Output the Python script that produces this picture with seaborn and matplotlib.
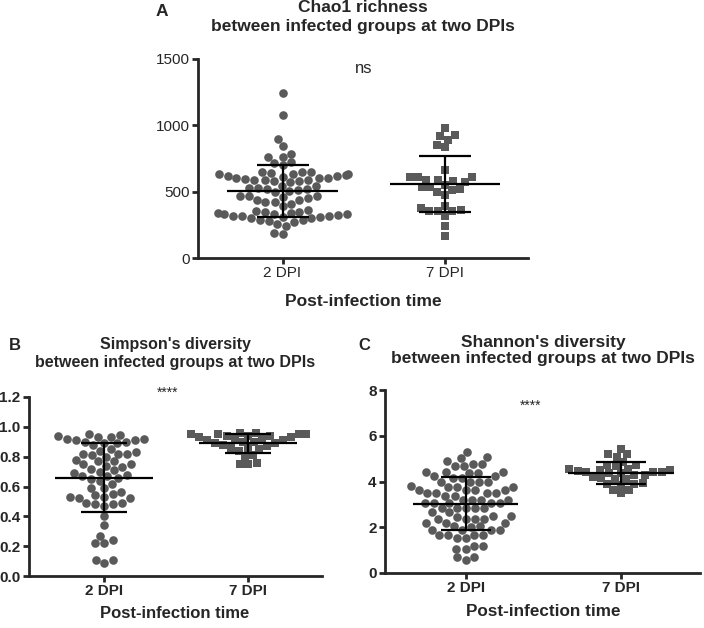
import seaborn as sns
import matplotlib.pyplot as plt
import numpy as np
import pandas as pd

sns.set_style("ticks")
plt.rcParams["font.family"] = ["Liberation Sans", "DejaVu Sans"]

groups = ["2 DPI", "7 DPI"]

# Chao1 richness
chao1_2dpi = [1240, 1075, 900, 845, 785, 765, 765, 720, 700, 715, 650, 645, 650,
              640, 630, 625, 615, 605, 600, 595, 590, 585, 580, 575, 580, 590, 600, 610, 620, 630, 635,
              545, 530, 520, 505, 500, 510, 520, 530, 540,
              435, 420, 470, 465, 460, 410, 420, 470, 450, 440,
              355, 350, 345, 340, 335, 330, 325, 320, 315, 310, 300, 290, 280, 275, 285, 300,
              310, 320, 330, 340,
              365, 390, 240, 255, 180, 190]
chao1_7dpi = [980, 930, 917, 892, 849, 834, 666,
              608, 590, 578, 570, 590, 608, 612,
              553, 535, 515, 477, 495, 520, 535,
              394, 364, 352, 352, 319, 357, 377, 239, 163]

# Simpson's diversity
simpson_2dpi = [0.95, 0.944,
                0.93, 0.92, 0.91, 0.90, 0.89, 0.88, 0.89, 0.90, 0.91, 0.92, 0.93, 0.94,
                0.84, 0.82, 0.82, 0.80, 0.78, 0.81, 0.82, 0.83, 0.85,
                0.77, 0.75, 0.74, 0.72, 0.70, 0.69, 0.71, 0.73, 0.75, 0.77,
                0.68, 0.67, 0.66, 0.65, 0.64, 0.67,
                0.62, 0.59, 0.59, 0.56, 0.55,
                0.54, 0.53, 0.52, 0.52, 0.53,
                0.49, 0.48, 0.48, 0.49, 0.47,
                0.40, 0.34, 0.27, 0.24, 0.22, 0.22, 0.11, 0.11, 0.09]
simpson_7dpi = [0.96, 0.95, 0.95, 0.94, 0.94, 0.95, 0.96, 0.95, 0.94,
                0.93, 0.93, 0.92, 0.92, 0.91, 0.91, 0.90, 0.90, 0.89, 0.89,
                0.88, 0.87, 0.86, 0.86, 0.85, 0.84,
                0.81, 0.80, 0.76, 0.75, 0.75]

# Shannon's diversity
shannon_2dpi = [5.27, 5.06, 5.03, 4.90, 4.77, 4.77, 4.68, 4.68,
                4.40, 4.40, 4.39, 4.38, 4.40, 4.22, 4.22, 4.15, 4.15,
                3.97, 3.97, 3.96, 3.98, 3.78, 3.78, 3.77, 3.79,
                3.64, 3.64, 3.63, 3.65, 3.49, 3.49, 3.48, 3.50, 3.37, 3.37,
                3.20, 3.20, 3.19, 3.21, 3.05, 3.05, 3.04, 3.06, 3.05,
                2.84, 2.84, 2.83, 2.85, 2.84, 2.65, 2.65,
                2.47, 2.47, 2.46, 2.36, 2.36, 2.35, 2.37, 2.18, 2.18, 2.17,
                2.04, 2.04, 2.03, 1.89, 1.89, 1.88, 1.90,
                1.67, 1.67, 1.66, 1.68, 1.53, 1.53, 1.19, 1.19, 1.05, 1.05,
                0.68, 0.68, 0.55]
shannon_7dpi = [5.41, 5.19, 5.19, 5.09, 4.87, 4.72, 4.70, 4.68, 4.56, 4.54, 4.52, 4.50,
                4.45, 4.42, 4.40, 4.40, 4.38, 4.35, 4.30, 4.28, 4.18, 4.15, 4.12, 4.10,
                3.95, 3.90, 3.88, 3.85, 3.64, 3.62, 3.48]

DOT = "#5a5a5a"
W, H = 704, 628


def fx(px):
    return px / W


def fy(py):
    return 1 - py / H


def panel(ax, d2, d7, ylim, yticks, fmt, tick_weight, dot):
    df = pd.DataFrame({"group": ["2 DPI"] * len(d2) + ["7 DPI"] * len(d7),
                       "value": d2 + d7})
    sns.swarmplot(data=df[df.group == "2 DPI"], x="group", y="value", order=groups,
                  marker="o", color=DOT, size=dot, linewidth=0, ax=ax)
    sns.swarmplot(data=df[df.group == "7 DPI"], x="group", y="value", order=groups,
                  marker="s", color=DOT, size=dot * 0.95, linewidth=0, ax=ax)
    for i, vals in enumerate([d2, d7]):
        m = np.mean(vals)
        sd = np.std(vals, ddof=1)
        ax.hlines(m, i - 0.34, i + 0.34, color="black", lw=1.6, zorder=5)
        ax.vlines(i, m - sd, m + sd, color="black", lw=1.6, zorder=5)
        ax.hlines([m - sd, m + sd], i - 0.16, i + 0.16, color="black", lw=1.6, zorder=5)
    ax.set_xlim(-0.52, 1.51)
    ax.set_ylim(*ylim)
    ax.set_yticks(yticks)
    ax.set_yticklabels([fmt.format(t) for t in yticks], fontsize=11, fontweight=tick_weight)
    ax.set_xticks([0, 1])
    ax.set_xticklabels(groups, fontsize=11, fontweight=tick_weight)
    ax.set_xlabel("")
    ax.set_ylabel("")
    sns.despine(ax=ax)
    for s in ["left", "bottom"]:
        ax.spines[s].set_linewidth(2.0)
    ax.tick_params(width=2.0, length=4, direction="out", pad=2)


fig = plt.figure(figsize=(7.04, 6.28), dpi=100)

axA = fig.add_axes([fx(198), fy(258), fx(528) - fx(198), fy(59) - fy(258)])
panel(axA, chao1_2dpi, chao1_7dpi, (0, 1500), [0, 500, 1000, 1500], "{:.0f}", "normal", 6.2)
axA.text(0.5, 1430, "ns", ha="center", va="center", fontsize=12)

axB = fig.add_axes([fx(29), fy(576), fx(322) - fx(29), fy(397) - fy(576)])
panel(axB, simpson_2dpi, simpson_7dpi, (0, 1.2), [0, 0.2, 0.4, 0.6, 0.8, 1.0, 1.2], "{:.1f}", "bold", 6.2)
axB.text(0.44, 1.225, "****", ha="center", va="center", fontsize=10)

axC = fig.add_axes([fx(385), fy(573), fx(700) - fx(385), fy(390) - fy(573)])
panel(axC, shannon_2dpi, shannon_7dpi, (0, 8), [0, 2, 4, 6, 8], "{:.0f}", "bold", 6.2)
axC.text(0.42, 7.3, "****", ha="center", va="center", fontsize=10)

# titles, panel letters and axis labels
fig.text(fx(162), fy(11), "A", ha="center", va="center", fontsize=12.5, fontweight="bold")
fig.text(fx(363), fy(8), "Chao1 richness", ha="center", va="center", fontsize=12.5, fontweight="bold")
fig.text(fx(363), fy(27), "between infected groups at two DPIs", ha="center", va="center",
         fontsize=12.5, fontweight="bold")
fig.text(fx(363), fy(302), "Post-infection time", ha="center", va="center", fontsize=12.5, fontweight="bold")

fig.text(fx(15), fy(345), "B", ha="center", va="center", fontsize=12, fontweight="bold")
fig.text(fx(175), fy(345), "Simpson's diversity", ha="center", va="center", fontsize=11.5, fontweight="bold")
fig.text(fx(175), fy(362), "between infected groups at two DPIs", ha="center", va="center",
         fontsize=11.5, fontweight="bold")
fig.text(fx(175), fy(613), "Post-infection time", ha="center", va="center", fontsize=12, fontweight="bold")

fig.text(fx(364), fy(345), "C", ha="center", va="center", fontsize=12, fontweight="bold")
fig.text(fx(543), fy(342), "Shannon's diversity", ha="center", va="center", fontsize=12.5, fontweight="bold")
fig.text(fx(543), fy(358), "between infected groups at two DPIs", ha="center", va="center",
         fontsize=12.5, fontweight="bold")
fig.text(fx(543), fy(612), "Post-infection time", ha="center", va="center", fontsize=12.3, fontweight="bold")

fig.savefig("out.png", dpi=100)
